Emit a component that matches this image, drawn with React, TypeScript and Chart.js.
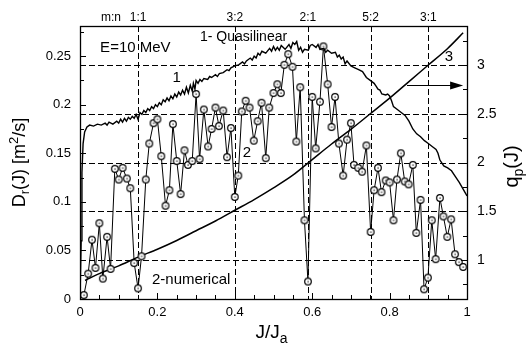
import React, { useEffect, useRef } from "react";
import { Chart, registerables } from "chart.js";
Chart.register(...registerables);

// Curve 1: quasilinear D_r(J)
const quasiX = [0, 0.003, 0.005, 0.008, 0.012, 0.018, 0.025, 0.035, 0.045, 0.055, 0.065, 0.07, 0.075, 0.085, 0.095, 0.1, 0.105, 0.11, 0.115, 0.12, 0.125, 0.13, 0.135, 0.14, 0.145, 0.15, 0.155, 0.16, 0.165, 0.17, 0.175, 0.18, 0.185, 0.19, 0.195, 0.2, 0.205, 0.21, 0.215, 0.22, 0.225, 0.23, 0.235, 0.24, 0.245, 0.25, 0.255, 0.26, 0.265, 0.27, 0.275, 0.28, 0.285, 0.29, 0.293, 0.297, 0.3, 0.305, 0.31, 0.315, 0.32, 0.33, 0.335, 0.34, 0.35, 0.355, 0.36, 0.37, 0.38, 0.385, 0.39, 0.4, 0.41, 0.42, 0.425, 0.43, 0.44, 0.445, 0.45, 0.455, 0.46, 0.465, 0.47, 0.48, 0.49, 0.495, 0.5, 0.505, 0.51, 0.515, 0.52, 0.53, 0.54, 0.545, 0.55, 0.555, 0.56, 0.565, 0.57, 0.575, 0.58, 0.59, 0.595, 0.6, 0.61, 0.615, 0.62, 0.63, 0.635, 0.64, 0.65, 0.66, 0.665, 0.67, 0.675, 0.68, 0.685, 0.69, 0.7, 0.71, 0.72, 0.73, 0.74, 0.75, 0.76, 0.765, 0.77, 0.775, 0.78, 0.79, 0.795, 0.8, 0.805, 0.81, 0.82, 0.83, 0.84, 0.85, 0.86, 0.87, 0.88, 0.89, 0.9, 0.91, 0.92, 0.925, 0.93, 0.94, 0.95, 0.96, 0.97, 0.98, 0.99, 1.0];
const quasiY = [0, 0.06, 0.13, 0.16, 0.172, 0.177, 0.179, 0.178, 0.18, 0.179, 0.181, 0.179, 0.182, 0.18, 0.183, 0.181, 0.185, 0.182, 0.186, 0.183, 0.187, 0.185, 0.188, 0.186, 0.19, 0.185, 0.192, 0.19, 0.194, 0.192, 0.196, 0.194, 0.198, 0.196, 0.2, 0.198, 0.202, 0.2, 0.205, 0.203, 0.207, 0.204, 0.209, 0.206, 0.211, 0.208, 0.213, 0.21, 0.215, 0.211, 0.218, 0.212, 0.22, 0.214, 0.222, 0.216, 0.225, 0.222, 0.226, 0.224, 0.227, 0.226, 0.229, 0.228, 0.231, 0.229, 0.232, 0.233, 0.236, 0.235, 0.238, 0.24, 0.241, 0.244, 0.242, 0.245, 0.248, 0.246, 0.25, 0.248, 0.253, 0.251, 0.255, 0.253, 0.258, 0.255, 0.26, 0.256, 0.259, 0.256, 0.261, 0.257, 0.262, 0.258, 0.264, 0.262, 0.265, 0.256, 0.259, 0.254, 0.257, 0.256, 0.261, 0.262, 0.259, 0.262, 0.257, 0.258, 0.254, 0.256, 0.253, 0.254, 0.249, 0.251, 0.247, 0.249, 0.242, 0.245, 0.24, 0.238, 0.236, 0.234, 0.228, 0.225, 0.222, 0.219, 0.216, 0.215, 0.211, 0.21, 0.211, 0.209, 0.204, 0.198, 0.195, 0.192, 0.189, 0.183, 0.175, 0.17, 0.167, 0.163, 0.16, 0.157, 0.154, 0.15, 0.143, 0.137, 0.135, 0.132, 0.126, 0.12, 0.113, 0.106];

// Curve 2: numerical D_r(J)
const numX = [0.01, 0.021, 0.031, 0.04, 0.05, 0.059, 0.07, 0.079, 0.09, 0.1, 0.11, 0.121, 0.13, 0.14, 0.15, 0.159, 0.17, 0.179, 0.19, 0.2, 0.21, 0.221, 0.231, 0.24, 0.25, 0.26, 0.27, 0.279, 0.29, 0.3, 0.309, 0.32, 0.331, 0.34, 0.35, 0.359, 0.37, 0.38, 0.39, 0.4, 0.409, 0.418, 0.428, 0.438, 0.449, 0.459, 0.469, 0.48, 0.489, 0.5, 0.51, 0.519, 0.528, 0.538, 0.549, 0.559, 0.569, 0.58, 0.589, 0.6, 0.609, 0.62, 0.629, 0.64, 0.65, 0.659, 0.669, 0.68, 0.69, 0.7, 0.708, 0.719, 0.729, 0.74, 0.751, 0.76, 0.77, 0.779, 0.79, 0.8, 0.81, 0.819, 0.829, 0.839, 0.849, 0.86, 0.869, 0.88, 0.889, 0.899, 0.909, 0.919, 0.93, 0.939, 0.949, 0.959, 0.969, 0.979, 0.99];
const numY = [0.004, 0.026, 0.061, 0.032, 0.078, 0.021, 0.064, 0.031, 0.134, 0.123, 0.135, 0.124, 0.114, 0.037, 0.011, 0.044, 0.123, 0.16, 0.181, 0.185, 0.147, 0.096, 0.112, 0.18, 0.142, 0.108, 0.153, 0.138, 0.142, 0.211, 0.144, 0.195, 0.157, 0.175, 0.197, 0.178, 0.194, 0.146, 0.176, 0.105, 0.127, 0.193, 0.204, 0.197, 0.163, 0.183, 0.202, 0.145, 0.197, 0.212, 0.221, 0.212, 0.241, 0.252, 0.239, 0.162, 0.218, 0.081, 0.018, 0.208, 0.155, 0.203, 0.26, 0.221, 0.177, 0.208, 0.16, 0.127, 0.164, 0.181, 0.138, 0.135, 0.131, 0.158, 0.069, 0.112, 0.135, 0.11, 0.122, 0.12, 0.081, 0.123, 0.15, 0.121, 0.118, 0.138, 0.068, 0.102, 0.01, 0.022, 0.081, 0.041, 0.104, 0.085, 0.064, 0.082, 0.046, 0.038, 0.033];

// Curve 3: safety factor q_p(J) (right axis)
const qX = [0.013, 0.05, 0.1, 0.15, 0.2, 0.25, 0.3, 0.35, 0.4, 0.45, 0.5, 0.55, 0.6, 0.65, 0.7, 0.75, 0.8, 0.85, 0.9, 0.95, 0.99];
const qY = [0.79, 0.86, 0.94, 1.03, 1.11, 1.2, 1.3, 1.4, 1.51, 1.62, 1.74, 1.87, 2.03, 2.19, 2.34, 2.5, 2.66, 2.83, 3.0, 3.17, 3.33];

const leftTicks = [0, 0.05, 0.1, 0.15, 0.2, 0.25];
const rightTicks = [1, 1.5, 2, 2.5, 3];
const bottomTicks = [0, 0.2, 0.4, 0.6, 0.8, 1];
const resonanceX = [0.15, 0.4, 0.589, 0.751, 0.9];
const topTickX = [0.08, ...resonanceX];
const topTickLabels = ["m:n", "1:1", "3:2", "2:1", "5:2", "3:1"];
const arrowQ = 2.79;
const arrowFromX = 0.845;
const arrowToX = 0.99;

const FONT = "'Liberation Sans', Arial, Helvetica, sans-serif";

function makeMarker() {
  const c = document.createElement("canvas");
  c.width = 10;
  c.height = 10;
  const g = c.getContext("2d")!;
  g.beginPath();
  g.arc(5, 5, 3.3, 0, Math.PI * 2);
  g.fillStyle = "#fff";
  g.fill();
  g.lineWidth = 1.2;
  g.strokeStyle = "#000";
  g.stroke();
  g.fillStyle = "#000";
  g.fillRect(4.5, 4.5, 1.2, 1.2);
  return c;
}

type Part = { t: string; size: number; dy?: number };

function drawRich(ctx: CanvasRenderingContext2D, parts: Part[], cx: number, cy: number, rot: number) {
  ctx.save();
  ctx.translate(cx, cy);
  ctx.rotate(rot);
  let total = 0;
  const widths = parts.map((p) => {
    ctx.font = `${p.size}px ${FONT}`;
    const w = ctx.measureText(p.t).width;
    total += w;
    return w;
  });
  let x = -total / 2;
  ctx.textBaseline = "alphabetic";
  ctx.textAlign = "left";
  ctx.fillStyle = "#000";
  parts.forEach((p, i) => {
    ctx.font = `${p.size}px ${FONT}`;
    ctx.fillText(p.t, x, 6 + (p.dy || 0));
    x += widths[i];
  });
  ctx.restore();
}

const decorPlugin = {
  id: "decor",
  beforeDatasetsDraw(chart: any) {
    const { ctx, chartArea } = chart;
    const { left, right, top, bottom } = chartArea;
    const xs = chart.scales.x;
    const y2 = chart.scales.y2;
    ctx.save();
    ctx.strokeStyle = "#000";
    ctx.lineWidth = 1;
    ctx.setLineDash([6, 3]);
    rightTicks.forEach((v) => {
      const py = Math.round(y2.getPixelForValue(v)) + 0.5;
      ctx.beginPath();
      ctx.moveTo(left, py);
      ctx.lineTo(right, py);
      ctx.stroke();
    });
    resonanceX.forEach((v) => {
      const px = Math.round(xs.getPixelForValue(v)) + 0.5;
      ctx.beginPath();
      ctx.moveTo(px, top);
      ctx.lineTo(px, bottom);
      ctx.stroke();
    });
    ctx.restore();
  },
  afterDatasetsDraw(chart: any) {
    const { ctx, chartArea } = chart;
    const { left, right, top, bottom } = chartArea;
    const xs = chart.scales.x;
    const ys = chart.scales.y;
    const y2 = chart.scales.y2;
    ctx.save();
    ctx.strokeStyle = "#000";
    ctx.lineWidth = 1;
    ctx.setLineDash([]);
    for (let i = 0; i <= 20; i++) {
      const v = i * 0.05;
      const px = Math.round(xs.getPixelForValue(v)) + 0.5;
      const len = i % 4 === 0 ? 6 : 4;
      ctx.beginPath();
      ctx.moveTo(px, bottom);
      ctx.lineTo(px, bottom - len);
      ctx.stroke();
    }
    for (let i = 0; i <= 11; i++) {
      const v = i * 0.025;
      const py = Math.round(ys.getPixelForValue(v)) + 0.5;
      const len = i % 2 === 0 ? 6 : 4;
      ctx.beginPath();
      ctx.moveTo(left, py);
      ctx.lineTo(left + len, py);
      ctx.stroke();
    }
    for (let i = 3; i <= 13; i++) {
      const v = i * 0.25;
      const py = Math.round(y2.getPixelForValue(v)) + 0.5;
      const len = i % 2 === 0 ? 6 : 4;
      ctx.beginPath();
      ctx.moveTo(right, py);
      ctx.lineTo(right - len, py);
      ctx.stroke();
    }
    ctx.lineWidth = 1.3;
    ctx.strokeRect(Math.round(left) + 0.5, Math.round(top) + 0.5, Math.round(right - left), Math.round(bottom - top));

    const ay = Math.round(y2.getPixelForValue(arrowQ)) + 0.5;
    const ax0 = xs.getPixelForValue(arrowFromX);
    const ax1 = xs.getPixelForValue(arrowToX);
    ctx.lineWidth = 1;
    ctx.beginPath();
    ctx.moveTo(ax0, ay);
    ctx.lineTo(ax1 - 10, ay);
    ctx.stroke();
    ctx.fillStyle = "#000";
    ctx.beginPath();
    ctx.moveTo(ax1, ay);
    ctx.lineTo(ax1 - 13, ay - 4);
    ctx.lineTo(ax1 - 13, ay + 4);
    ctx.closePath();
    ctx.fill();

    ctx.fillStyle = "#000";
    ctx.textBaseline = "middle";
    ctx.textAlign = "left";
    ctx.font = `15px ${FONT}`;
    ctx.fillText("E=10 MeV", xs.getPixelForValue(0.052), ys.getPixelForValue(0.259));
    ctx.font = `14px ${FONT}`;
    ctx.fillText("1- Quasilinear", xs.getPixelForValue(0.31), ys.getPixelForValue(0.2695));
    ctx.font = `15px ${FONT}`;
    ctx.fillText("2-numerical", xs.getPixelForValue(0.186), ys.getPixelForValue(0.0195));
    ctx.textAlign = "center";
    ctx.fillText("1", xs.getPixelForValue(0.25), ys.getPixelForValue(0.228));
    ctx.fillText("2", xs.getPixelForValue(0.4315), ys.getPixelForValue(0.15));
    ctx.fillText("3", xs.getPixelForValue(0.9535), y2.getPixelForValue(3.08));

    drawRich(
      ctx,
      [
        { t: "D", size: 18 },
        { t: "r", size: 13, dy: 4 },
        { t: "(J) [m", size: 18 },
        { t: "2", size: 13, dy: -7 },
        { t: "/s]", size: 18 },
      ],
      left - 61,
      (top + bottom) / 2,
      -Math.PI / 2
    );
    drawRich(
      ctx,
      [
        { t: "q", size: 20 },
        { t: "p", size: 14, dy: 5 },
        { t: "(J)", size: 20 },
      ],
      right + 45,
      (top + bottom) / 2 + 4,
      -Math.PI / 2
    );
    drawRich(
      ctx,
      [
        { t: "J/J", size: 19 },
        { t: "a", size: 14, dy: 5 },
      ],
      (left + right) / 2 - 2,
      bottom + 33,
      0
    );
    ctx.restore();
  },
};

const tickFont = { family: FONT, size: 13 };

export default function App() {
  const ref = useRef<HTMLCanvasElement | null>(null);
  useEffect(() => {
    if (!ref.current) return;
    const marker = makeMarker();
    const chart = new Chart(ref.current, {
      type: "line",
      data: {
        datasets: [
          {
            label: "1- Quasilinear",
            data: quasiX.map((x, i) => ({ x, y: quasiY[i] })),
            borderColor: "#000",
            borderWidth: 1.4,
            pointRadius: 0,
            tension: 0,
            xAxisID: "x",
            yAxisID: "y",
          },
          {
            label: "2-numerical",
            data: numX.map((x, i) => ({ x, y: numY[i] })),
            borderColor: "#000",
            borderWidth: 1,
            pointStyle: marker as any,
            pointRadius: 3.5,
            tension: 0,
            xAxisID: "x",
            yAxisID: "y",
          },
          {
            label: "3",
            data: qX.map((x, i) => ({ x, y: qY[i] })),
            borderColor: "#000",
            borderWidth: 1.5,
            pointRadius: 0,
            cubicInterpolationMode: "monotone",
            xAxisID: "x",
            yAxisID: "y2",
          },
        ],
      },
      options: {
        animation: false,
        responsive: false,
        layout: { padding: 0 },
        plugins: { legend: { display: false }, tooltip: { enabled: false } },
        scales: {
          x: {
            type: "linear",
            position: "bottom",
            min: 0,
            max: 1,
            grid: { display: false, drawTicks: false },
            border: { display: false },
            afterBuildTicks: (s: any) => {
              s.ticks = bottomTicks.map((v) => ({ value: v }));
            },
            afterFit: (s: any) => {
              s.height = 44;
            },
            ticks: {
              autoSkip: false,
              maxRotation: 0,
              padding: 6,
              color: "#000",
              font: tickFont,
              callback: (v: any) => String(Number(v)),
            },
          },
          x2: {
            type: "linear",
            position: "top",
            min: 0,
            max: 1,
            grid: { display: false, drawTicks: false },
            border: { display: false },
            afterBuildTicks: (s: any) => {
              s.ticks = topTickX.map((v) => ({ value: v }));
            },
            afterFit: (s: any) => {
              s.height = 26;
            },
            ticks: {
              autoSkip: false,
              maxRotation: 0,
              padding: 1,
              color: "#000",
              font: { family: FONT, size: 12 },
              callback: (_v: any, i: number) => topTickLabels[i],
            },
          },
          y: {
            type: "linear",
            position: "left",
            min: 0,
            max: 0.281,
            grid: { display: false, drawTicks: false },
            border: { display: false },
            afterBuildTicks: (s: any) => {
              s.ticks = leftTicks.map((v) => ({ value: v }));
            },
            afterFit: (s: any) => {
              s.width = 80;
            },
            ticks: {
              padding: 9,
              color: "#000",
              font: tickFont,
              callback: (v: any) => String(Number(v)),
            },
          },
          y2: {
            type: "linear",
            position: "right",
            min: 0.6,
            max: 3.4,
            grid: { display: false, drawTicks: false },
            border: { display: false },
            afterBuildTicks: (s: any) => {
              s.ticks = rightTicks.map((v) => ({ value: v }));
            },
            afterFit: (s: any) => {
              s.width = 61;
            },
            ticks: {
              padding: 10,
              color: "#000",
              font: { family: FONT, size: 14 },
              callback: (v: any) => String(Number(v)),
            },
          },
        },
      },
      plugins: [decorPlugin],
    } as any);
    return () => chart.destroy();
  }, []);
  return (
    <div style={{ position: "absolute", left: 0, top: 0, width: 528, height: 343, background: "#fff" }}>
      <canvas ref={ref} width={528} height={343} />
    </div>
  );
}
